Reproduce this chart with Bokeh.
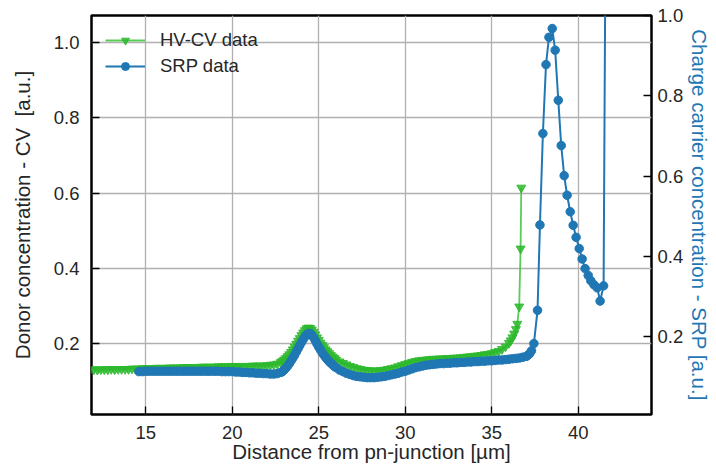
from bokeh.plotting import figure
from bokeh.models import (Range1d, LinearAxis, FixedTicker, PrintfTickFormatter,
                          Legend, LegendItem, Title)
from bokeh.embed import file_html
from bokeh.resources import INLINE

# ---------------- data ----------------
# HV-CV data (left axis)
cv_x = [11.8, 12.0, 12.2, 12.4, 12.6, 12.8, 13.0, 13.2, 13.4, 13.6, 13.8, 14.0,
        14.2, 14.4, 14.6, 14.8, 15.0, 15.2, 15.4, 15.6, 15.8, 16.0, 16.2, 16.4,
        16.6, 16.8, 17.0, 17.2, 17.4, 17.6, 17.8, 18.0, 18.2, 18.4, 18.6, 18.8,
        19.0, 19.2, 19.4, 19.6, 19.8, 20.0, 20.2, 20.4, 20.6, 20.8, 21.0, 21.2,
        21.4, 21.6, 21.8, 22.0, 22.2, 22.4, 22.6, 22.8,
        22.9, 23.0, 23.1, 23.2, 23.3, 23.4, 23.5, 23.6, 23.7, 23.8, 23.9, 24.0,
        24.1, 24.2, 24.3, 24.4, 24.5, 24.6, 24.7, 24.8, 24.9, 25.0, 25.1, 25.2,
        25.3, 25.4, 25.5, 25.6, 25.7, 25.8, 25.9, 26.0,
        26.2, 26.4, 26.6, 26.8, 27.0, 27.2, 27.4, 27.6, 27.8, 28.0, 28.2, 28.4,
        28.6, 28.8, 29.0, 29.2, 29.4, 29.6, 29.8, 30.0, 30.2, 30.4, 30.6, 30.8,
        31.0, 31.2, 31.4, 31.6, 31.8, 32.0, 32.2, 32.4, 32.6, 32.8, 33.0, 33.2,
        33.4, 33.6, 33.8, 34.0, 34.2, 34.4, 34.6, 34.8, 35.0, 35.2, 35.4, 35.6,
        35.8, 36.0, 36.1, 36.2, 36.3, 36.4, 36.48, 36.59, 36.67, 36.71]
cv_y = [0.131, 0.131, 0.130, 0.131, 0.131, 0.131, 0.132, 0.131, 0.132, 0.132, 0.132, 0.132,
        0.133, 0.133, 0.133, 0.134, 0.134, 0.134, 0.134, 0.135, 0.135, 0.135, 0.135, 0.136,
        0.136, 0.136, 0.136, 0.137, 0.137, 0.137, 0.137, 0.137, 0.138, 0.138, 0.138, 0.138,
        0.138, 0.139, 0.139, 0.139, 0.139, 0.140, 0.140, 0.140, 0.140, 0.140, 0.140, 0.141,
        0.141, 0.141, 0.141, 0.142, 0.143, 0.144, 0.146, 0.150,
        0.153, 0.157, 0.161, 0.166, 0.171, 0.177, 0.184, 0.191, 0.199, 0.207, 0.214, 0.222,
        0.229, 0.235, 0.240, 0.242, 0.241, 0.237, 0.231, 0.224, 0.216, 0.209, 0.202, 0.196,
        0.190, 0.184, 0.179, 0.174, 0.169, 0.165, 0.161, 0.157,
        0.152, 0.148, 0.144, 0.140, 0.137, 0.134, 0.132, 0.130, 0.129, 0.128, 0.128, 0.128,
        0.129, 0.130, 0.132, 0.134, 0.136, 0.139, 0.142, 0.145, 0.148, 0.151, 0.153, 0.155,
        0.156, 0.157, 0.158, 0.159, 0.159, 0.160, 0.160, 0.161, 0.161, 0.162, 0.162, 0.163,
        0.164, 0.165, 0.166, 0.167, 0.168, 0.169, 0.171, 0.172, 0.174, 0.177, 0.180, 0.185,
        0.192, 0.201, 0.208, 0.216, 0.226, 0.238, 0.252, 0.298, 0.452, 0.614]

# SRP data (right axis)
srp_x = [14.6, 14.8, 15.0, 15.2, 15.4, 15.6, 15.8, 16.0, 16.2, 16.4, 16.6, 16.8,
         17.0, 17.2, 17.4, 17.6, 17.8, 18.0, 18.2, 18.4, 18.6, 18.8, 19.0, 19.2,
         19.4, 19.6, 19.8, 20.0, 20.2, 20.4, 20.6, 20.8, 21.0, 21.2, 21.4, 21.6,
         21.8, 22.0, 22.2, 22.4, 22.6, 22.8,
         22.9, 23.0, 23.1, 23.2, 23.3, 23.4, 23.5, 23.6, 23.7, 23.8, 23.9, 24.0,
         24.1, 24.2, 24.3, 24.4, 24.5, 24.6, 24.7, 24.8, 24.9, 25.0, 25.1, 25.2,
         25.3, 25.4, 25.5, 25.6, 25.7, 25.8, 25.9, 26.0,
         26.2, 26.4, 26.6, 26.8, 27.0, 27.2, 27.4, 27.6, 27.8, 28.0, 28.2, 28.4,
         28.6, 28.8, 29.0, 29.2, 29.4, 29.6, 29.8, 30.0, 30.2, 30.4, 30.6, 30.8,
         31.0, 31.2, 31.4, 31.6, 31.8, 32.0, 32.2, 32.4, 32.6, 32.8, 33.0, 33.2,
         33.4, 33.6, 33.8, 34.0, 34.2, 34.4, 34.6, 34.8, 35.0, 35.2, 35.4, 35.6,
         35.8, 36.0, 36.2, 36.4, 36.6, 36.8, 37.0, 37.1, 37.2, 37.3,
         37.44, 37.65, 37.79, 37.96, 38.14, 38.31, 38.50, 38.67, 38.85, 39.02,
         39.19, 39.36, 39.54, 39.71, 39.88, 40.06, 40.23, 40.40, 40.58, 40.73,
         40.91, 41.10, 41.27, 41.47, 41.62]
srp_y = [0.112, 0.112, 0.113, 0.113, 0.113, 0.113, 0.113, 0.113, 0.113, 0.113, 0.113, 0.113,
         0.113, 0.113, 0.113, 0.113, 0.113, 0.113, 0.113, 0.113, 0.113, 0.113, 0.113, 0.113,
         0.112, 0.112, 0.112, 0.112, 0.111, 0.111, 0.110, 0.110, 0.109, 0.109, 0.108, 0.108,
         0.107, 0.107, 0.106, 0.106, 0.107, 0.110,
         0.112, 0.116, 0.121, 0.126, 0.132, 0.139, 0.146, 0.153, 0.161, 0.169, 0.177, 0.185,
         0.192, 0.199, 0.204, 0.207, 0.207, 0.203, 0.197, 0.189, 0.181, 0.173, 0.166, 0.159,
         0.153, 0.147, 0.142, 0.137, 0.133, 0.129, 0.125, 0.122,
         0.116, 0.112, 0.108, 0.105, 0.102, 0.100, 0.099, 0.098, 0.097, 0.097, 0.097, 0.098,
         0.099, 0.100, 0.102, 0.104, 0.106, 0.108, 0.111, 0.113, 0.116, 0.119, 0.122, 0.124,
         0.126, 0.128, 0.129, 0.130, 0.131, 0.132, 0.132, 0.133, 0.133, 0.134, 0.134, 0.135,
         0.135, 0.136, 0.136, 0.137, 0.137, 0.138, 0.138, 0.139, 0.139, 0.140, 0.141, 0.141,
         0.142, 0.143, 0.144, 0.145, 0.146, 0.148, 0.150, 0.153, 0.157, 0.164,
         0.182, 0.265, 0.478, 0.706, 0.878, 0.946, 0.968, 0.914, 0.789, 0.676,
         0.601, 0.552, 0.511, 0.477, 0.447, 0.419, 0.393, 0.369, 0.352, 0.339,
         0.329, 0.321, 0.288, 0.326, 1.5]

x_ticks = [15, 20, 25, 30, 35, 40]
left_ticks = [0.2, 0.4, 0.6, 0.8, 1.0]
right_ticks = [0.2, 0.4, 0.6, 0.8, 1.0]

FONT = "Liberation Sans"
TXT = "#262626"
GREEN = "#2db82d"
GREEN_LINE = "#45c845"
BLUE = "#1f77b4"

p = figure(width=716, height=466, output_backend="svg", toolbar_location=None,
           x_range=Range1d(11.86, 44.24), y_range=Range1d(0.0113, 1.0718),
           min_border_left=91, min_border_right=65, min_border_top=15,
           min_border_bottom=52)
p.extra_y_ranges = {"srp": Range1d(0.005, 1.0005)}
p.background_fill_color = "white"
p.border_fill_color = "white"
p.outline_line_color = "black"
p.outline_line_width = 2.5

right_axis = LinearAxis(y_range_name="srp")
p.add_layout(right_axis, "right")

bottom_axis = p.below[0]
left_axis = p.left[0]

for ax in (bottom_axis, left_axis, right_axis):
    ax.axis_line_color = None
    ax.major_tick_in = 8
    ax.major_tick_out = 0
    ax.major_tick_line_color = "black"
    ax.major_tick_line_width = 1.3
    ax.minor_tick_line_color = None
    ax.major_label_text_font = FONT
    ax.major_label_text_font_size = "18.5px"
    ax.major_label_text_color = TXT
    ax.axis_label_text_font = FONT
    ax.axis_label_text_font_size = "20.5px"
    ax.axis_label_text_font_style = "normal"
    ax.axis_label_text_color = TXT
    ax.axis_label_text_line_height = 0.8

bottom_axis.ticker = FixedTicker(ticks=x_ticks)
bottom_axis.axis_label = "Distance from pn-junction [µm]"
bottom_axis.major_label_standoff = 11
bottom_axis.axis_label_standoff = -2

left_axis.ticker = FixedTicker(ticks=left_ticks)
left_axis.formatter = PrintfTickFormatter(format="%.1f")
left_axis.axis_label = "Donor concentration - CV\u00a0 [a.u.]"
left_axis.major_label_standoff = 12
left_axis.axis_label_standoff = 17

right_axis.ticker = FixedTicker(ticks=right_ticks)
right_axis.formatter = PrintfTickFormatter(format="%.1f")
right_axis.major_label_standoff = 6

right_title = Title(text="Charge carrier concentration - SRP [a.u.]",
                    align="center", text_font=FONT, text_font_size="20.5px",
                    text_font_style="normal", text_color=BLUE,
                    standoff=3, offset=0, text_line_height=0.8)
p.add_layout(right_title, "right")

p.xgrid.ticker = FixedTicker(ticks=x_ticks)
p.ygrid.ticker = FixedTicker(ticks=left_ticks)
for g in (p.xgrid, p.ygrid):
    g.grid_line_color = "#b0b0b0"
    g.grid_line_width = 1.3

gl = p.line(cv_x, cv_y, line_color=GREEN_LINE, line_width=1.8, line_alpha=0.9)
gs = p.scatter(cv_x, cv_y, marker="inverted_triangle", size=9,
               fill_color=GREEN, line_color=GREEN, fill_alpha=0.85, line_alpha=0.85)
bl = p.line(srp_x, srp_y, line_color=BLUE, line_width=2, y_range_name="srp")
bs = p.scatter(srp_x, srp_y, marker="circle", size=8.5,
               fill_color=BLUE, line_color=BLUE, y_range_name="srp")

legend = Legend(items=[LegendItem(label="HV-CV data", renderers=[gl, gs]),
                       LegendItem(label="SRP data", renderers=[bl, bs])],
                location="top_left", border_line_color=None,
                background_fill_alpha=0.0, label_text_font=FONT,
                label_text_font_size="18.5px", label_text_color=TXT,
                glyph_width=40, glyph_height=20, label_standoff=15,
                spacing=4, padding=12, margin=14)
p.add_layout(legend)

open("out.html", "w").write(file_html(p, INLINE))
